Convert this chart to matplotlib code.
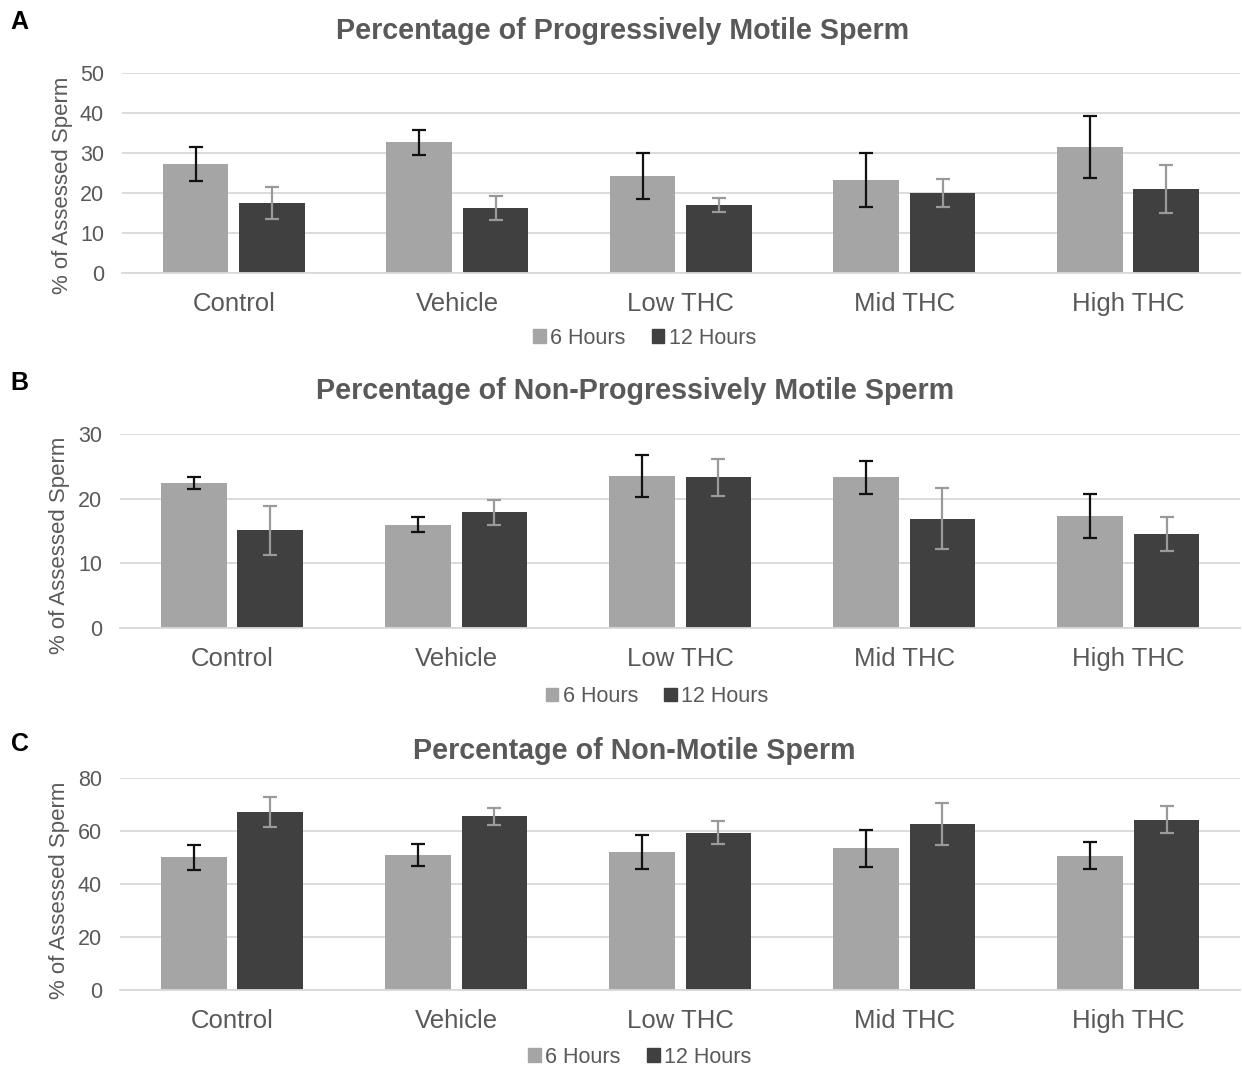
import numpy as np
import matplotlib
matplotlib.use("Agg")
import matplotlib.pyplot as plt
from matplotlib.patches import Patch

# categories and series
groups = ["Control", "Vehicle", "Low THC", "Mid THC", "High THC"]
series = ["6 Hours", "12 Hours"]

# A: progressively motile
prog_6h = [27.3, 32.7, 24.3, 23.2, 31.5]
prog_6h_err = [4.2, 3.1, 5.7, 6.7, 7.8]
prog_12h = [17.5, 16.3, 17.0, 20.0, 21.0]
prog_12h_err = [3.9, 3.0, 1.7, 3.5, 6.0]

# B: non-progressively motile
nonprog_6h = [22.4, 16.0, 23.5, 23.3, 17.3]
nonprog_6h_err = [0.9, 1.2, 3.3, 2.6, 3.4]
nonprog_12h = [15.1, 17.9, 23.3, 16.9, 14.5]
nonprog_12h_err = [3.8, 1.9, 2.9, 4.7, 2.6]

# C: non-motile
nonmot_6h = [50.1, 50.9, 52.1, 53.4, 50.7]
nonmot_6h_err = [4.7, 4.0, 6.5, 7.0, 5.0]
nonmot_12h = [67.3, 65.5, 59.4, 62.5, 64.3]
nonmot_12h_err = [5.7, 3.3, 4.5, 7.9, 5.0]

titles = ["Percentage of Progressively Motile Sperm",
          "Percentage of Non-Progressively Motile Sperm",
          "Percentage of Non-Motile Sperm"]
letters = ["A", "B", "C"]
ymaxes = [50, 30, 80]
ysteps = [10, 10, 20]

light = "#a5a5a5"
dark = "#404040"
grid = "#d9d9d9"
text = "#595959"

plt.rcParams['font.family'] = ['Liberation Sans', 'DejaVu Sans']

fig = plt.figure(figsize=(12.42, 10.67), dpi=100)

# axes boxes in figure fractions: left, bottom, width, height
boxes = [[0.0982, 0.7441, 0.900, 0.1874],
         [0.0966, 0.4114, 0.902, 0.1818],
         [0.0966, 0.0722, 0.902, 0.1987]]
title_pos = [(0.501, 0.971), (0.511, 0.6335), (0.511, 0.2962)]
letter_pos = [(0.016, 0.979), (0.016, 0.641), (0.016, 0.303)]
legend_pos = [(0.519, 0.683), (0.529, 0.347), (0.515, 0.009)]
ylabel_pos = [(0.050, 0.826), (0.048, 0.489), (0.048, 0.166)]

data = [(prog_6h, prog_6h_err, prog_12h, prog_12h_err),
        (nonprog_6h, nonprog_6h_err, nonprog_12h, nonprog_12h_err),
        (nonmot_6h, nonmot_6h_err, nonmot_12h, nonmot_12h_err)]

x = np.arange(len(groups))
w = 0.293
off = 0.171

for i, (v6, e6, v12, e12) in enumerate(data):
    ax = fig.add_axes(boxes[i])
    ax.bar(x - off, v6, w, color=light, zorder=2)
    ax.bar(x + off, v12, w, color=dark, zorder=2)
    ax.errorbar(x - off, v6, yerr=e6, fmt="none", ecolor="#111111",
                elinewidth=1.6, capsize=5, capthick=1.6, zorder=3)
    ax.errorbar(x + off, v12, yerr=e12, fmt="none", ecolor="#9a9a9a",
                elinewidth=1.6, capsize=5, capthick=1.6, zorder=3)

    ax.set_xlim(-0.5, len(groups) - 0.5)
    ax.set_ylim(0, ymaxes[i])
    ax.set_yticks(np.arange(0, ymaxes[i] + 1, ysteps[i]))
    ax.set_xticks(x)
    ax.set_xticklabels(groups, fontsize=18.5, color=text)
    ax.tick_params(axis="x", length=0, pad=14)
    ax.tick_params(axis="y", length=0, pad=13, labelsize=15.5, labelcolor=text)
    ax.grid(axis="y", color=grid, linewidth=1.3, zorder=0)
    for s in ["top", "right", "left"]:
        ax.spines[s].set_visible(False)
    ax.spines["bottom"].set_color(grid)
    ax.spines["bottom"].set_linewidth(1.3)

    fig.text(ylabel_pos[i][0], ylabel_pos[i][1], "% of Assessed Sperm",
             fontsize=16, color=text, rotation=90, ha="center", va="center")
    fig.text(title_pos[i][0], title_pos[i][1], titles[i], fontsize=20.6,
             fontweight="bold", color=text, ha="center", va="center")
    fig.text(letter_pos[i][0], letter_pos[i][1], letters[i], fontsize=18,
             fontweight="bold", color="black", ha="center", va="center")

    handles = [Patch(color=light), Patch(color=dark)]
    fig.legend(handles, series, loc="center", bbox_to_anchor=legend_pos[i],
               ncol=2, frameon=False, fontsize=15.5, labelcolor=text,
               handlelength=0.6, handleheight=0.6, handletextpad=0.2,
               columnspacing=1.2)

fig.savefig("out.png", dpi=100)
